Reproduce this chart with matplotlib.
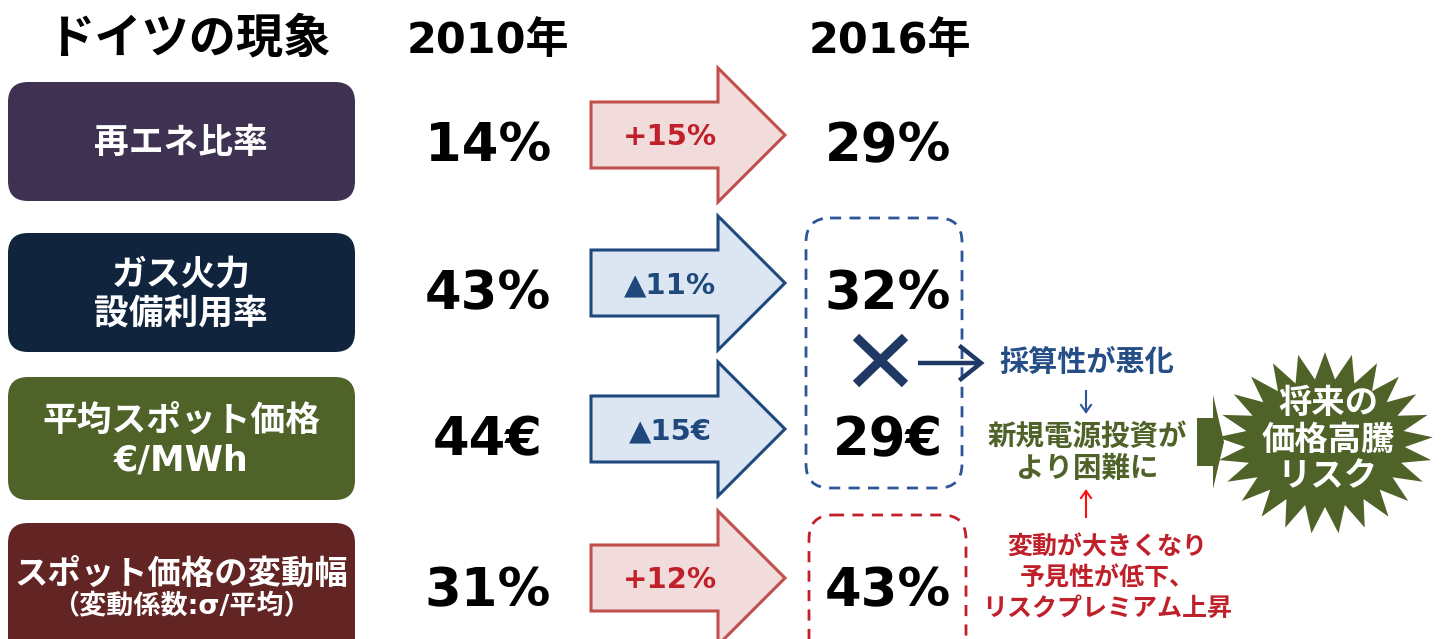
import numpy as np
import matplotlib
matplotlib.use("Agg")
import matplotlib.pyplot as plt
from matplotlib.patches import FancyBboxPatch, Polygon

plt.rcParams["font.family"] = ["DejaVu Sans", "Noto Sans CJK JP"]

# data
title = "ドイツの現象"
years = ["2010年", "2016年"]
categories = ["再エネ比率", "ガス火力\n設備利用率", "平均スポット価格\n€/MWh", "スポット価格の変動幅"]
cat_sub = "（変動係数:σ/平均）"
vals_2010 = ["14%", "43%", "44€", "31%"]
vals_2016 = ["29%", "32%", "29€", "43%"]
changes = ["+15%", "▲11%", "▲15€", "+12%"]
change_up = [True, False, False, True]
notes_blue = "採算性が悪化"
notes_green = "新規電源投資が\nより困難に"
notes_red = "変動が大きくなり\n予見性が低下、\nリスクプレミアム上昇"
risk_text = "将来の\n価格高騰\nリスク"

# layout
box_colors = ["#3F3151", "#10243E", "#4F6228", "#632523"]
box_tops = [82, 233, 377, 523]
box_bots = [201, 352, 500, 662]
val_y = [146, 294, 440, 591]
arrow_y = [135, 283, 429, 578]
red_fill, red_edge, red_txt = "#F2DCDB", "#C0504D", "#C0202A"
blue_fill, blue_edge, blue_txt = "#DCE6F2", "#1F497D", "#1F497D"

fig = plt.figure(figsize=(14.42, 6.39), dpi=100)
ax = fig.add_axes([0, 0, 1, 1])
ax.set_xlim(0, 1442)
ax.set_ylim(639, 0)
ax.axis("off")

# headers
ax.text(189, 40, title, fontsize=34, fontweight="bold", ha="center", va="center")
ax.text(488, 41, years[0], fontsize=31, fontweight="bold", ha="center", va="center")
ax.text(890, 41, years[1], fontsize=31, fontweight="bold", ha="center", va="center")

# category boxes
for i, cat in enumerate(categories):
    top, bot = box_tops[i], box_bots[i]
    ax.add_patch(FancyBboxPatch((8, top), 347, bot - top,
                                boxstyle="round,pad=0,rounding_size=20",
                                fc=box_colors[i], ec="none"))
    if i < 3:
        ax.text(181, (top + min(bot, 639)) / 2 + 2, cat, fontsize=25, fontweight="bold",
                color="white", ha="center", va="center", linespacing=1.2)
    else:
        ax.text(181, 574, cat, fontsize=24, fontweight="bold", color="white",
                ha="center", va="center")
        ax.text(181, 607, cat_sub, fontsize=19.5, fontweight="bold", color="white",
                ha="center", va="center")

# values
for i in range(4):
    ax.text(488, val_y[i], vals_2010[i], fontsize=38, fontweight="bold",
            ha="center", va="center")
    ax.text(888, val_y[i], vals_2016[i], fontsize=38, fontweight="bold",
            ha="center", va="center")

# block arrows
for i in range(4):
    cy = arrow_y[i]
    x0, xh, xt = 591, 718, 785
    hb, hh = 33, 67
    pts = [(x0, cy - hb), (xh, cy - hb), (xh, cy - hh), (xt, cy),
           (xh, cy + hh), (xh, cy + hb), (x0, cy + hb)]
    fc, ec, tc = (red_fill, red_edge, red_txt) if change_up[i] else (blue_fill, blue_edge, blue_txt)
    ax.add_patch(Polygon(pts, closed=True, fc=fc, ec=ec, lw=2.2, joinstyle="miter"))
    ax.text(670, cy + 2, changes[i], fontsize=21, fontweight="bold", color=tc,
            ha="center", va="center")

# dashed boxes
ax.add_patch(FancyBboxPatch((806, 218), 156, 270, boxstyle="round,pad=0,rounding_size=24",
                            fc="none", ec="#2E5597", lw=2, ls=(0, (4, 3))))
ax.add_patch(FancyBboxPatch((809, 515), 157, 150, boxstyle="round,pad=0,rounding_size=24",
                            fc="none", ec=red_txt, lw=2, ls=(0, (4, 3))))

# cross and arrow
navy = "#1F3864"
ax.plot([856, 905], [337, 384], color=navy, lw=6.5, solid_capstyle="butt")
ax.plot([856, 905], [384, 337], color=navy, lw=6.5, solid_capstyle="butt")
ax.plot([918, 980], [363, 363], color=navy, lw=3.2, solid_capstyle="butt")
ax.plot([961, 981, 961], [347, 363, 379], color=navy, lw=3.2, solid_joinstyle="miter")

# right notes
ax.text(1087, 363, notes_blue, fontsize=21, fontweight="bold", color="#254E86",
        ha="center", va="center")
ax.plot([1086, 1086], [391, 412], color="#2E5597", lw=1.5)
ax.plot([1081, 1086, 1091], [405, 412, 405], color="#2E5597", lw=1.5)
ax.text(1087, 453, notes_green, fontsize=20.5, fontweight="bold", color="#4F6228",
        ha="center", va="center", linespacing=1.2)
ax.plot([1086, 1086], [491, 517], color="#FF1010", lw=1.5)
ax.plot([1081, 1086, 1091], [498, 491, 498], color="#FF1010", lw=1.5)
ax.text(1107, 578, notes_red, fontsize=18, fontweight="bold", color=red_txt,
        ha="center", va="center", linespacing=1.36)

# green arrow into the burst
green = "#4F6228"
ax.add_patch(Polygon([(1197, 418), (1213, 418), (1213, 395), (1224, 442),
                      (1213, 489), (1213, 466), (1197, 466)], closed=True, fc=green, ec="none"))

# starburst
n = 25
ang = np.linspace(0, 2 * np.pi, 2 * n, endpoint=False) + np.pi / 2
rx = np.where(np.arange(2 * n) % 2 == 0, 108, 80)
ry = np.where(np.arange(2 * n) % 2 == 0, 91, 64)
cx, cy = 1325, 443
ax.add_patch(Polygon(np.column_stack([cx + rx * np.cos(ang), cy - ry * np.sin(ang)]),
                     closed=True, fc=green, ec="none"))
ax.text(1328, 440, risk_text, fontsize=24, fontweight="bold", color="white",
        ha="center", va="center", linespacing=1.13)

fig.savefig("out.png", dpi=100)
